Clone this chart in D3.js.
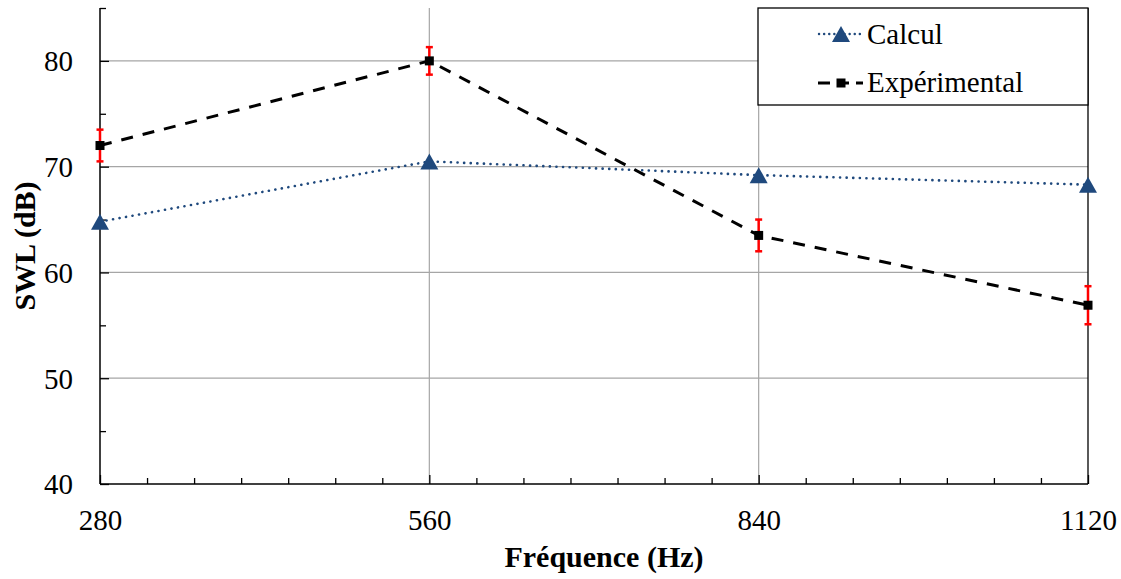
<!DOCTYPE html>
<html>
<head>
<meta charset="utf-8">
<script src="https://cdn.jsdelivr.net/npm/d3@7"></script>
<style>
  html, body { margin: 0; padding: 0; background: #fff; }
  svg { display: block; }
</style>
</head>
<body>
<svg id="chart" width="1121" height="579"></svg>
<script>
// ---- Data ----
const frequencies = [280, 560, 840, 1120];
const calculValues = [64.8, 70.5, 69.2, 68.3];
const experimentalValues = [72.0, 80.0, 63.5, 56.9];
const experimentalErrors = [1.5, 1.3, 1.5, 1.8];
const xTickLabels = ["280", "560", "840", "1120"];
const xMinorTicks = [320, 360, 400, 440, 480, 520, 600, 640, 680, 720, 760, 800, 880, 920, 960, 1000, 1040, 1080];
const yTicks = [40, 50, 60, 70, 80];
const yMinorTicks = [45, 55, 65, 75, 85];
const seriesNames = ["Calcul", "Expérimental"];
const xTitle = "Fréquence (Hz)";
const yTitle = "SWL (dB)";

(function () {
// ---- Layout ----
const svg = d3.select("#chart");
const pLeft = 100, pRight = 1088, pTop = 8, pBottom = 484;
const x = d3.scaleLinear().domain([280, 1120]).range([pLeft, pRight]);
const y = d3.scaleLinear().domain([40, 85]).range([pBottom, pTop]);
const font = "'Liberation Serif', 'Times New Roman', serif";
const blue = "#1f497d";

// gridlines
svg.append("g").selectAll("line").data(yTicks.filter(d => d > 40)).join("line")
  .attr("x1", pLeft).attr("x2", pRight).attr("y1", d => y(d)).attr("y2", d => y(d))
  .attr("stroke", "#a6a6a6").attr("stroke-width", 1.2);
svg.append("g").selectAll("line").data(frequencies.slice(1, 3)).join("line")
  .attr("x1", d => x(d)).attr("x2", d => x(d)).attr("y1", pTop).attr("y2", pBottom)
  .attr("stroke", "#a6a6a6").attr("stroke-width", 1.2);
// right border line
svg.append("line").attr("x1", x(1120)).attr("x2", x(1120)).attr("y1", pTop).attr("y2", pBottom)
  .attr("stroke", "#000").attr("stroke-width", 1.3);

// axes (ticks inside)
const yAxis = d3.axisLeft(y).tickValues(yTicks).tickSize(-9).tickPadding(27).tickFormat(d3.format("d"));
const gy = svg.append("g").attr("transform", `translate(${pLeft},0)`).call(yAxis);
const yMinor = d3.axisLeft(y).tickValues(yMinorTicks).tickSize(-6).tickFormat("");
const gym = svg.append("g").attr("transform", `translate(${pLeft},0)`).call(yMinor);
const xAxis = d3.axisBottom(x).tickValues(frequencies).tickSize(-9).tickPadding(25)
  .tickFormat((d, i) => xTickLabels[i]);
const gx = svg.append("g").attr("transform", `translate(0,${pBottom})`).call(xAxis);
const xMinor = d3.axisBottom(x).tickValues(xMinorTicks).tickSize(-6).tickFormat("");
const gxm = svg.append("g").attr("transform", `translate(0,${pBottom})`).call(xMinor);

[gy, gym, gx, gxm].forEach(g => {
  g.selectAll(".domain").attr("stroke", "#000").attr("stroke-width", 1.5);
  g.selectAll(".tick line").attr("stroke", "#000").attr("stroke-width", 1.3);
  g.selectAll("text").attr("font-family", font).attr("font-size", 29).attr("fill", "#000");
});
gy.select(".domain").attr("d", `M0,${pTop}V${pBottom}`);
gym.select(".domain").remove();
gxm.select(".domain").remove();
gx.select(".domain").attr("d", `M${pLeft},0H${pRight}`);
gy.selectAll("text").attr("dy", "0.34em");
gx.selectAll("text").attr("dy", "0.71em");

// axis titles
svg.append("text").attr("x", 604).attr("y", 567).attr("text-anchor", "middle")
  .attr("font-family", font).attr("font-weight", "bold").attr("font-size", 30).text(xTitle);
svg.append("text").attr("transform", "translate(35,246) rotate(-90)").attr("text-anchor", "middle")
  .attr("font-family", font).attr("font-weight", "bold").attr("font-size", 30).text(yTitle);

// lines
const calcData = frequencies.map((f, i) => ({ f, v: calculValues[i] }));
const expData = frequencies.map((f, i) => ({ f, v: experimentalValues[i], e: experimentalErrors[i] }));
const line = d3.line().x(d => x(d.f)).y(d => y(d.v));

svg.append("path").datum(calcData).attr("d", line).attr("fill", "none")
  .attr("stroke", blue).attr("stroke-width", 2.6).attr("stroke-dasharray", "0.1,6.5").attr("stroke-linecap", "round");
svg.append("path").datum(expData).attr("d", line).attr("fill", "none")
  .attr("stroke", "#000").attr("stroke-width", 3).attr("stroke-dasharray", "12,10");

// error bars
const eb = svg.append("g").attr("stroke", "#ff0000").attr("stroke-width", 2.5);
expData.forEach(d => {
  const cx = x(d.f), y1 = y(d.v + d.e), y2 = y(d.v - d.e);
  eb.append("line").attr("x1", cx).attr("x2", cx).attr("y1", y1).attr("y2", y2);
  eb.append("line").attr("x1", cx - 3.5).attr("x2", cx + 3.5).attr("y1", y1).attr("y2", y1);
  eb.append("line").attr("x1", cx - 3.5).attr("x2", cx + 3.5).attr("y1", y2).attr("y2", y2);
});

// markers
const tri = (cx, cy, w, h) => `M${cx},${cy - h / 2}L${cx + w / 2},${cy + h / 2}L${cx - w / 2},${cy + h / 2}Z`;
svg.append("g").selectAll("path").data(calcData).join("path")
  .attr("d", d => tri(x(d.f), y(d.v), 18, 16)).attr("fill", blue);
svg.append("g").selectAll("rect").data(expData).join("rect")
  .attr("x", d => x(d.f) - 4.5).attr("y", d => y(d.v) - 4.5).attr("width", 9).attr("height", 9).attr("fill", "#000");

// legend
const lg = svg.append("g");
lg.append("rect").attr("x", 758).attr("y", 8).attr("width", 330).attr("height", 97)
  .attr("fill", "#fff").attr("stroke", "#000").attr("stroke-width", 1.3);
lg.append("line").attr("x1", 819).attr("x2", 863).attr("y1", 34).attr("y2", 34)
  .attr("stroke", blue).attr("stroke-width", 2.4).attr("stroke-dasharray", "0.1,5").attr("stroke-linecap", "round");
lg.append("path").attr("d", tri(841, 34, 18, 16)).attr("fill", blue);
lg.append("text").attr("x", 867).attr("y", 44).attr("font-family", font).attr("font-size", 29).text(seriesNames[0]);
lg.append("line").attr("x1", 818).attr("x2", 863).attr("y1", 83).attr("y2", 83)
  .attr("stroke", "#000").attr("stroke-width", 3).attr("stroke-dasharray", "12,7");
lg.append("rect").attr("x", 836.5).attr("y", 78.5).attr("width", 9).attr("height", 9).attr("fill", "#000");
lg.append("text").attr("x", 867).attr("y", 92).attr("font-family", font).attr("font-size", 29).text(seriesNames[1]);
})();
</script>
</body>
</html>
